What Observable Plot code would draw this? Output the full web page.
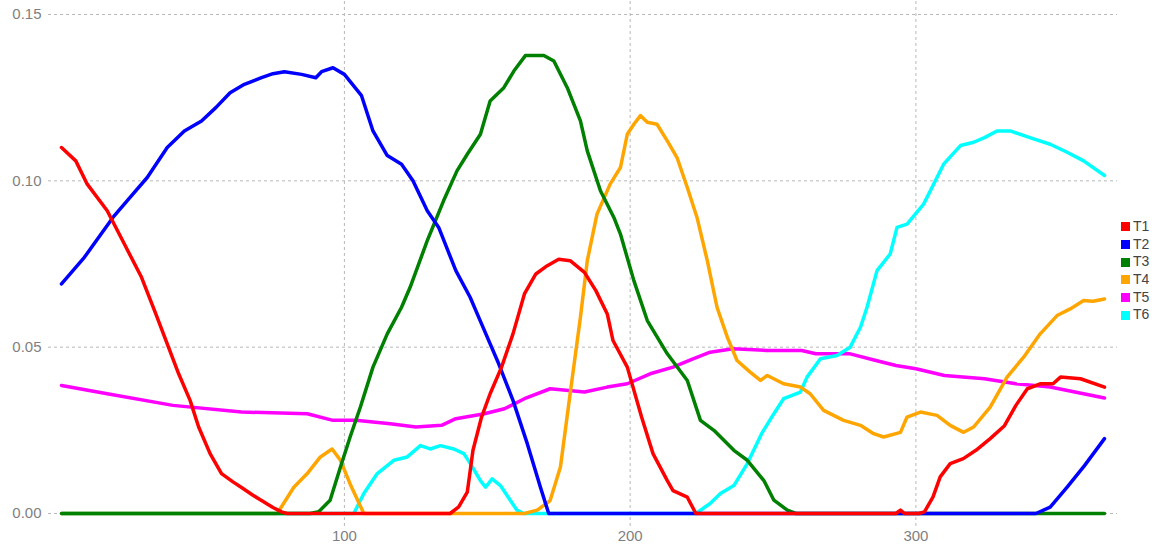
<!DOCTYPE html>
<html>
<head>
<meta charset="utf-8">
<script src="https://cdn.jsdelivr.net/npm/d3@7"></script>
<script src="https://cdn.jsdelivr.net/npm/@observablehq/plot@0.6"></script>
<style>
  html, body { margin: 0; padding: 0; background: #fff; }
  #wrap { position: relative; width: 1160px; height: 547px; font-family: "Liberation Sans", Arial, sans-serif; }
  #legend { position: absolute; left: 1121px; top: 218px; }
  .row { height: 17.7px; line-height: 17.7px; display: flex; align-items: center; font-size: 14px; color: #444; }
  .sw { width: 9px; height: 9px; margin-right: 3px; }
</style>
</head>
<body>
<div id="wrap"><div id="legend"></div></div>
<script>
// Series values: [day, value]
const t1 = [[1,0.110],[6,0.106],[10,0.099],[17,0.091],[23,0.081],[29,0.071],[34,0.060],[38,0.051],[42,0.042],[46,0.034],[49,0.026],[53,0.018],[57,0.012],[61,0.0095],[64,0.0078],[68,0.0055],[71,0.0039],[75,0.0018],[78,0.0005],[80,0],[137,0],[140,0.002],[143,0.0064],[145,0.019],[148,0.029],[151,0.036],[155,0.044],[159,0.054],[163,0.066],[167,0.072],[171,0.0745],[175,0.0764],[179,0.076],[184,0.0725],[188,0.067],[192,0.060],[194,0.052],[199,0.044],[204,0.029],[208,0.018],[213,0.0099],[215,0.0069],[220,0.0049],[223,0],[293,0],[294.6,0.001],[296,0],[301,0],[303,0.0005],[306,0.005],[308.5,0.011],[312,0.015],[316.6,0.0165],[321,0.019],[326,0.0225],[331,0.0264],[335,0.0325],[339,0.0375],[343.5,0.039],[348,0.039],[350.6,0.041],[357.6,0.0405],[366,0.038]];
const t2 = [[1,0.069],[9,0.077],[19,0.089],[25,0.095],[31,0.101],[38,0.110],[44,0.115],[50,0.118],[55,0.122],[60,0.1265],[65,0.129],[71,0.131],[75,0.1322],[79,0.1328],[85,0.132],[90,0.131],[92,0.1328],[96,0.134],[100,0.132],[106,0.1256],[110,0.115],[115,0.1076],[120,0.105],[124,0.100],[129,0.091],[133,0.086],[139,0.073],[144,0.065],[148,0.057],[154,0.045],[159,0.034],[164,0.021],[168.6,0.0079],[171.5,0],[342,0],[347,0.0019],[353,0.008],[359,0.0144],[366,0.0225]];
const t3 = [[1,0],[88,0],[91,0.0005],[95,0.004],[98.6,0.0139],[102,0.023],[105.6,0.032],[110,0.044],[115,0.054],[120,0.062],[123,0.068],[129,0.082],[134.7,0.094],[139.4,0.103],[143,0.108],[147.6,0.114],[151,0.124],[155.8,0.128],[159.3,0.133],[163.4,0.1377],[166.5,0.1377],[169.8,0.1377],[173.3,0.136],[178,0.128],[182.6,0.118],[185,0.109],[189.6,0.097],[194.3,0.089],[196.6,0.084],[201.3,0.070],[206,0.058],[213,0.048],[220,0.040],[224.6,0.028],[229.3,0.025],[236.3,0.019],[241,0.016],[246.8,0.0099],[250.3,0.004],[255,0.001],[258,0],[366,0]];
const t4 = [[1,0],[76.5,0],[82.3,0.0079],[87,0.012],[91.6,0.017],[95.7,0.0194],[98.6,0.016],[102,0.0089],[106.8,0],[163,0],[167.5,0.001],[172,0.0039],[175.6,0.014],[179,0.036],[182.6,0.059],[185,0.076],[188.4,0.090],[193,0.099],[196.6,0.104],[199,0.114],[201.3,0.117],[203.6,0.1196],[206,0.1176],[209.4,0.117],[213,0.112],[216.4,0.107],[220,0.098],[223.4,0.089],[227,0.076],[230.4,0.062],[234,0.053],[237.4,0.046],[242,0.0425],[245.6,0.040],[248,0.0415],[253.7,0.039],[259.6,0.038],[263,0.036],[267.7,0.031],[274.7,0.028],[280.6,0.0265],[285.2,0.024],[288.7,0.023],[294.6,0.0244],[296.9,0.029],[301.6,0.0305],[307.4,0.0295],[312,0.0265],[316.7,0.0244],[320.2,0.026],[326,0.032],[331.9,0.041],[337.7,0.047],[343.5,0.054],[349.4,0.0595],[354,0.0615],[358.7,0.064],[362,0.0638],[366,0.0645]];
const t5 = [[1,0.0385],[17,0.036],[40,0.0325],[64,0.0305],[87,0.030],[96,0.028],[104,0.028],[116,0.027],[125,0.026],[134,0.0265],[139,0.0285],[149,0.030],[156,0.0315],[163,0.0345],[172,0.0375],[184,0.0365],[192,0.038],[199,0.039],[207,0.042],[215,0.044],[222,0.0465],[228,0.0485],[236,0.0495],[248,0.049],[260,0.049],[265,0.048],[277,0.048],[286,0.046],[293,0.0445],[300,0.0435],[310,0.0415],[324,0.0405],[335,0.039],[347,0.038],[366,0.0347]];
const t6 = [[1,0],[103.3,0],[106.8,0.006],[111.5,0.012],[117.3,0.016],[122,0.017],[126.6,0.0204],[130,0.0194],[133.6,0.0204],[138.3,0.0194],[141.8,0.018],[144.1,0.015],[147.6,0.0099],[149.4,0.0079],[151.7,0.0104],[154.6,0.0084],[158.1,0.0039],[160.4,0.001],[162.8,0],[223,0],[228,0.003],[231.6,0.006],[236.3,0.0084],[241,0.015],[246,0.024],[250.3,0.030],[253.7,0.0345],[259.6,0.0365],[261.9,0.041],[266.6,0.0465],[272.4,0.0475],[277,0.050],[280.6,0.056],[282.9,0.062],[286.4,0.073],[291,0.078],[293.4,0.086],[296.9,0.087],[302.7,0.093],[306.2,0.099],[309.7,0.105],[315.6,0.1106],[320.2,0.1116],[324,0.113],[328.4,0.115],[333,0.115],[341.2,0.1126],[347,0.111],[352.9,0.1086],[358.7,0.106],[366,0.1016]];

const seriesNames = ["T1","T2","T3","T4","T5","T6"];
const seriesColors = ["#ff0000","#0000ff","#008000","#ffa500","#ff00ff","#00ffff"];
const seriesData = [t1,t2,t3,t4,t5,t6];
const yTicks = [0, 0.05, 0.10, 0.15];
const xTicks = [100, 200, 300];

// drawing order (bottom -> top)
const drawOrder = [4, 5, 3, 2, 1, 0];

const gridStyle = {stroke: "#b8b8b8", strokeOpacity: 1, strokeDasharray: "3,3", strokeWidth: 1};

const chart = Plot.plot({
  width: 1160,
  height: 547,
  marginLeft: 48,
  marginRight: 43,
  marginTop: 1,
  marginBottom: 21,
  insetLeft: 13,
  insetRight: 13,
  insetTop: 13,
  insetBottom: 13,
  style: {fontFamily: "Liberation Sans, Arial, sans-serif", background: "#fff"},
  x: {domain: [1, 366]},
  y: {domain: [0, 0.15]},
  marks: [
    Plot.gridY(yTicks, gridStyle),
    Plot.gridX(xTicks, gridStyle),
    Plot.axisY(yTicks, {tickSize: 0, tickPadding: 7, tickFormat: d3.format(".2f"), fontSize: 15, color: "#7f7f7f", label: null}),
    Plot.axisX(xTicks, {tickSize: 0, tickPadding: 4, fontSize: 15, color: "#7f7f7f", label: null}),
    ...drawOrder.map(i => Plot.line(seriesData[i], {
      x: d => d[0], y: d => d[1],
      stroke: seriesColors[i], strokeWidth: 3.5, strokeLinejoin: "round", strokeLinecap: "round"
    }))
  ]
});
document.getElementById("wrap").prepend(chart);

const legend = document.getElementById("legend");
seriesNames.forEach((n, i) => {
  const row = document.createElement("div");
  row.className = "row";
  const sw = document.createElement("div");
  sw.className = "sw";
  sw.style.background = seriesColors[i];
  const lab = document.createElement("span");
  lab.textContent = n;
  row.appendChild(sw); row.appendChild(lab);
  legend.appendChild(row);
});
</script>
</body>
</html>
